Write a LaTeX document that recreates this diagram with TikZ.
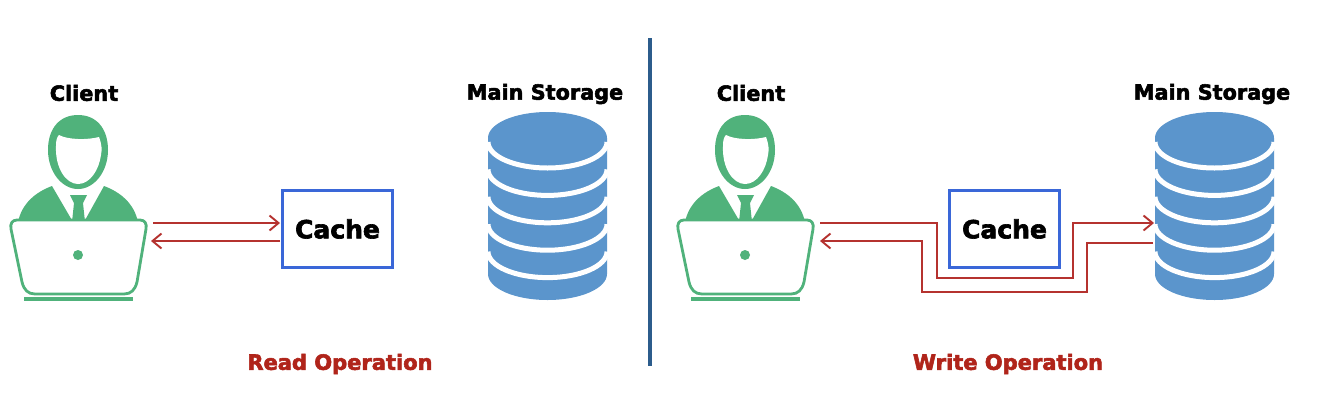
\documentclass[tikz,border=0pt]{standalone}
\usepackage{fontspec}
\setmainfont{DejaVu Sans}
\newfontfamily\heavyfont[FakeBold=2.6]{DejaVu Sans Bold}
\usetikzlibrary{arrows.meta}
\definecolor{pgreen}{HTML}{50B27B}
\definecolor{dbblue}{HTML}{5B95CC}
\definecolor{cacheblue}{HTML}{3A67D8}
\definecolor{linkred}{HTML}{B5322F}
\definecolor{oplabel}{HTML}{B0241A}
\definecolor{divider}{HTML}{2C5C8C}
\tikzset{
  x=1pt,y=-1pt,
  lbl/.style={font=\heavyfont\fontsize{20.8}{22}\selectfont,text=black,inner sep=0pt},
  oplbl/.style={font=\heavyfont\fontsize{21}{22}\selectfont,text=oplabel,inner sep=0pt},
  cachebox/.style={draw=cacheblue,line width=2.8pt,fill=white,minimum width=110pt,minimum height=77pt,inner sep=0pt,font=\heavyfont\fontsize{25}{26}\selectfont},
  link/.style={draw=linkred,line width=1.9pt},
  arrowed/.style={link,-{Straight Barb[length=9pt,width=15pt,line width=1.9pt]}},
  pics/client/.style={code={
    % shoulders
    \fill[pgreen] (18,222) .. controls (22,203) and (36,192) .. (52,186) -- (73,222) -- (84,222) -- (104,186) .. controls (120,192) and (134,203) .. (138,222) -- cycle;
    % tie
    \fill[pgreen] (70,195) -- (87,195) -- (83,203) -- (85,222) -- (72,222) -- (74,203) -- cycle;
    % head
    \fill[pgreen] (78,115) .. controls (96,115) and (108,128) .. (108,150) .. controls (108,172) and (94,189) .. (78,189) .. controls (62,189) and (48,172) .. (48,150) .. controls (48,128) and (60,115) .. (78,115) -- cycle;
    \fill[white] (56,146) .. controls (56,140) and (57,137) .. (59,135) .. controls (68,140) and (88,140) .. (99,137) .. controls (102,145) and (102,150) .. (101,155) .. controls (99,170) and (90,184) .. (78,184) .. controls (66,184) and (55,168) .. (56,146) -- cycle;
    % laptop
    \filldraw[draw=pgreen,fill=white,line width=2.8pt,line join=round] (17,220) -- (140,220) .. controls (145,220) and (147,224) .. (146,229) -- (137,282) .. controls (135,290) and (131,294) .. (124,294) -- (35,294) .. controls (28,294) and (24,290) .. (22,282) -- (11,229) .. controls (10,224) and (12,220) .. (17,220) -- cycle;
    \fill[pgreen] (78,255) circle[radius=5];
    \fill[pgreen] (24,297) rectangle (133,301);
  }},
  pics/storage/.style={code={
    \fill[dbblue] (488,138) arc[start angle=180,end angle=360,x radius=59.5,y radius=26] -- (607,274) arc[start angle=0,end angle=180,x radius=59.5,y radius=26] -- cycle;
    \foreach \yy in {142,169.4,196.8,224.2,251.6}{
      \draw[white,line width=5pt] (488,\yy) arc[start angle=180,end angle=0,x radius=59.5,y radius=26];
    }
  }}
}
\begin{document}
\begin{tikzpicture}
\useasboundingbox (0,0) rectangle (1320,410);
\fill[white] (0,0) rectangle (1320,410);

% left panel
\pic {client};
\pic {storage};
\node[lbl] (clientL) at (84,93) {Client};
\node[lbl] (storeL) at (545,94) {Main Storage};
\node[cachebox] (cacheL) at (337.5,229) {Cache};
\node[oplbl] (opL) at (340,364) {Read Operation};

\coordinate (lapLa) at (153,223);
\coordinate (lapLb) at (151,241);
\coordinate (cacheLa) at (280,223);
\coordinate (cacheLb) at (280,241);
\draw[arrowed] (lapLa) -- (cacheLa);
\draw[arrowed] (cacheLb) -- (lapLb);

% divider
\coordinate (divT) at (650,38);
\coordinate (divB) at (650,366);
\draw[divider,line width=4.5pt] (divT) -- (divB);

% right panel
\begin{scope}[xshift=667pt]
\pic {client};
\pic {storage};
\end{scope}
\node[lbl] (clientR) at (751,93) {Client};
\node[lbl] (storeR) at (1212,94) {Main Storage};
\node[cachebox] (cacheR) at (1004.5,229) {Cache};
\node[oplbl] (opR) at (1008,364) {Write Operation};

\coordinate (lapRa) at (820,223);
\coordinate (lapRb) at (820,241);
\coordinate (storeRa) at (1154,223);
\coordinate (storeRb) at (1153,243);
\draw[arrowed] (lapRa) -- (937,223) -- (937,278) -- (1073,278) -- (1073,223) -- (storeRa);
\draw[arrowed] (storeRb) -- (1087,243) -- (1087,292) -- (922,292) -- (922,241) -- (lapRb);
\end{tikzpicture}
\end{document}
